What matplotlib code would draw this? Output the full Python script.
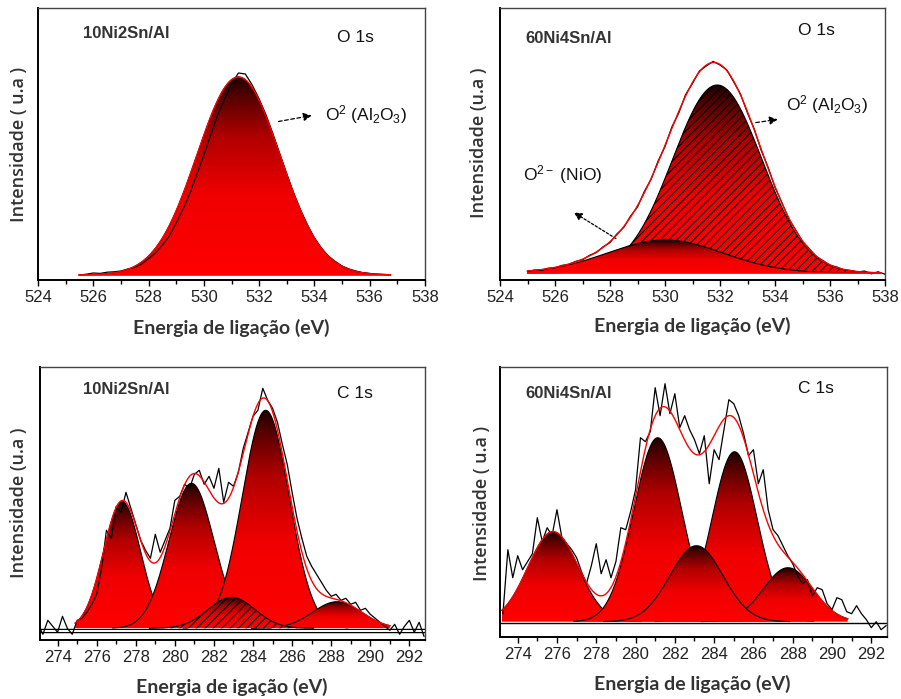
import numpy as np
import matplotlib
matplotlib.use('Agg')
import matplotlib.pyplot as plt
from matplotlib.colors import LinearSegmentedColormap
from matplotlib.ticker import MultipleLocator, NullLocator

plt.rcParams['font.family'] = ['Liberation Sans', 'DejaVu Sans']
plt.rcParams['mathtext.fontset'] = 'custom'
plt.rcParams['mathtext.rm'] = 'Liberation Sans'
plt.rcParams['mathtext.it'] = 'Liberation Sans:italic'
plt.rcParams['mathtext.bf'] = 'Liberation Sans:bold'
plt.rcParams['hatch.linewidth'] = 0.8

# ---- O 1s, 10Ni2Sn/Al (measured, 0.25 eV step) ----
o1s_10_energy = np.arange(525.5, 536.76, 0.25)
o1s_10_counts = [0.000, 0.004, 0.010, 0.008, 0.014, 0.016, 0.020, 0.030, 0.038, 0.055,
                 0.082, 0.110, 0.150, 0.195, 0.260, 0.330, 0.410, 0.505, 0.600, 0.700,
                 0.800, 0.880, 0.955, 1.010, 1.005, 0.950, 0.880, 0.800, 0.705, 0.605,
                 0.505, 0.410, 0.325, 0.250, 0.185, 0.135, 0.095, 0.068, 0.045, 0.030,
                 0.020, 0.012, 0.008, 0.004, 0.003, 0.001]
o1s_10_centers = [531.25]
o1s_10_heights = [0.99]
o1s_10_sigmas = [1.5]

# ---- O 1s, 60Ni4Sn/Al ----
o1s_60_energy = np.arange(525.0, 538.01, 0.25)
o1s_60_counts = [0.006, 0.015, 0.012, 0.024, 0.026, 0.038, 0.043, 0.058, 0.066, 0.088,
                 0.102, 0.131, 0.152, 0.195, 0.228, 0.285, 0.330, 0.408, 0.470, 0.560,
                 0.632, 0.730, 0.800, 0.892, 0.948, 1.010, 1.035, 1.058, 1.040, 1.015,
                 0.955, 0.893, 0.800, 0.718, 0.612, 0.528, 0.428, 0.352, 0.270, 0.216,
                 0.158, 0.121, 0.082, 0.062, 0.038, 0.030, 0.016, 0.013, 0.004, 0.010,
                 -0.004, 0.006, -0.006]
o1s_60_centers = [531.9, 530.0]
o1s_60_heights = [0.94, 0.165]
o1s_60_sigmas = [1.62, 2.1]

# ---- C 1s, 10Ni2Sn/Al ----
c1s_10_energy = np.arange(273.0, 292.76, 0.25)
c1s_10_counts = [0.02, -0.03, 0.04, 0.01, -0.02, 0.06, 0.00, -0.03, 0.04, 0.05,
                 0.08, 0.12, 0.17, 0.30, 0.49, 0.45, 0.61, 0.58, 0.68, 0.60,
                 0.52, 0.44, 0.39, 0.35, 0.47, 0.38, 0.44, 0.50, 0.64, 0.66,
                 0.72, 0.70, 0.77, 0.79, 0.72, 0.76, 0.70, 0.80, 0.63, 0.73,
                 0.71, 0.78, 0.90, 0.98, 1.06, 1.09, 1.20, 1.14, 1.10, 1.03,
                 0.92, 0.82, 0.68, 0.55, 0.45, 0.36, 0.31, 0.27, 0.23, 0.19,
                 0.16, 0.17, 0.14, 0.15, 0.12, 0.13, 0.09, 0.10, 0.07, 0.05,
                 0.03, 0.01, -0.01, 0.02, -0.03, 0.01, 0.04, -0.02, 0.03, -0.04]
c1s_10_centers = [277.3, 280.85, 282.9, 284.65, 288.3]
c1s_10_heights = [0.633, 0.725, 0.155, 1.09, 0.133]
c1s_10_sigmas = [0.95, 1.15, 1.2, 1.2, 1.25]

# ---- C 1s, 60Ni4Sn/Al ----
c1s_60_energy = np.arange(273.25, 292.76, 0.25)
c1s_60_counts = [0.04, 0.36, 0.22, 0.33, 0.26, 0.30, 0.34, 0.52, 0.40, 0.47,
                 0.43, 0.56, 0.42, 0.39, 0.36, 0.32, 0.25, 0.19, 0.28, 0.39,
                 0.24, 0.31, 0.22, 0.30, 0.47, 0.46, 0.55, 0.66, 0.92, 0.90,
                 0.95, 1.17, 1.03, 1.19, 1.04, 1.14, 0.97, 1.03, 0.96, 0.91,
                 0.84, 0.93, 0.69, 0.86, 0.81, 0.96, 1.11, 1.09, 1.03, 0.94,
                 0.83, 0.86, 0.69, 0.76, 0.56, 0.46, 0.43, 0.38, 0.33, 0.29,
                 0.23, 0.19, 0.21, 0.13, 0.17, 0.16, 0.09, 0.06, 0.12, 0.11,
                 0.05, 0.04, 0.08, 0.04, 0.01, -0.03, 0.00, -0.04, -0.02]
c1s_60_centers = [275.8, 281.13, 283.1, 285.04, 287.76]
c1s_60_heights = [0.45, 0.92, 0.38, 0.85, 0.27]
c1s_60_sigmas = [1.28, 1.22, 1.35, 1.15, 1.26]

peak_cmap = LinearSegmentedColormap.from_list(
    'peak', [(0.0, '#ff0000'), (0.4, '#f00000'), (0.7, '#b00000'), (0.88, '#600000'), (1.0, '#200000')])

W, H = 901, 699


def px_axes(fig, left, top, right, bottom):
    return fig.add_axes([left / W, 1 - bottom / H, (right - left) / W, (bottom - top) / H])


def gaussian(x, c, h, s):
    return h * np.exp(-(x - c) ** 2 / (2 * s * s))


def gradient_peak(ax, x, y, hatch=None, z=2):
    poly, = ax.fill(np.r_[x[0], x, x[-1]], np.r_[0, y, 0], facecolor='none', edgecolor='none')
    grad = np.linspace(0, 1, 256).reshape(-1, 1)
    im = ax.imshow(grad, cmap=peak_cmap, origin='lower', aspect='auto',
                   extent=[x[0], x[-1], 0, y.max()], zorder=z, interpolation='bilinear')
    im.set_clip_path(poly)
    if hatch:
        ax.fill_between(x, 0, y, facecolor='none', edgecolor='k', linewidth=0, hatch=hatch, zorder=z + 0.05)
    ax.plot(x, y, color='k', lw=0.8, zorder=z + 0.1)


def draw_panel(ax, energy, counts, centers, heights, sigmas, fit_lo, fit_hi,
               xlim, ylim, xticks, hatched=(), on_top=(), clip_sigma=None, edge_red=False):
    xs = np.linspace(fit_lo, fit_hi, 600)
    total = np.zeros_like(xs)
    for i, (c, h, s) in enumerate(zip(centers, heights, sigmas)):
        lo, hi = fit_lo, fit_hi
        if clip_sigma:
            lo, hi = max(fit_lo, c - clip_sigma * s), min(fit_hi, c + clip_sigma * s)
        xp = np.linspace(lo, hi, 300)
        z = 3.5 if i in on_top else 2 + i * 0.2
        gradient_peak(ax, xp, gaussian(xp, c, h, s), hatch='////' if i in hatched else None, z=z)
        total += gaussian(xs, c, h, s)
    ax.plot(energy, counts, color='k', lw=0.9, zorder=5)
    ax.plot(xs, total, color='#ff0000', lw=1.0, zorder=6)
    if edge_red:
        ax.plot(xs, np.zeros_like(xs), color='#ff0000', lw=1.2, zorder=6)
    ax.set_xlim(*xlim)
    ax.set_ylim(*ylim)
    ax.set_xticks(xticks)
    ax.xaxis.set_minor_locator(MultipleLocator(1))
    ax.yaxis.set_major_locator(NullLocator())
    ax.tick_params(axis='x', which='major', direction='out', length=4, width=1.0,
                   labelsize=12, labelcolor='#222222', pad=3)
    ax.tick_params(axis='x', which='minor', direction='out', length=3, width=1.0)
    for side in ['left', 'bottom']:
        ax.spines[side].set_linewidth(1.4)
    for side in ['top', 'right']:
        ax.spines[side].set_linewidth(1.0)
        ax.spines[side].set_color('#444444')


fig = plt.figure(figsize=(W / 100, H / 100), dpi=100)

label_font = dict(family=['Lato', 'DejaVu Sans'], fontsize=14, fontweight='bold', color='#333333')
ylabel_font = dict(family=['Open Sans', 'DejaVu Sans'], fontsize=13, fontweight='semibold', color='#333333')
tag_font = dict(fontsize=12, fontweight='bold', color='#333333')
core_font = dict(fontsize=12.5, color='#111111')
ann_font = dict(fontsize=12.5, color='#111111')

# panel 1
ax1 = px_axes(fig, 38, 8, 425, 280)
draw_panel(ax1, o1s_10_energy, o1s_10_counts, o1s_10_centers, o1s_10_heights, o1s_10_sigmas,
           525.5, 536.75, (524, 538), (-0.025, 1.335), np.arange(524, 539, 2), edge_red=True)
ax1.text(0.116, 0.908, '10Ni2Sn/Al', transform=ax1.transAxes, va='center', **tag_font)
ax1.text(0.773, 0.893, 'O 1s', transform=ax1.transAxes, va='center', **core_font)
ax1.annotate('', xy=(534.0, 0.80), xytext=(532.6, 0.765),
             arrowprops=dict(arrowstyle='-|>', color='k', lw=0.9, linestyle=(0, (3, 2)), mutation_scale=12))
ax1.text(534.4, 0.80, r'O$^{2}$ (Al$_{2}$O$_{3}$)', va='center', **ann_font)

# panel 2
ax2 = px_axes(fig, 500, 8, 885, 280)
draw_panel(ax2, o1s_60_energy, o1s_60_counts, o1s_60_centers, o1s_60_heights, o1s_60_sigmas,
           525.0, 537.8, (524, 538), (-0.035, 1.325), np.arange(524, 539, 2), hatched=(0,), edge_red=True)
ax2.text(0.065, 0.889, '60Ni4Sn/Al', transform=ax2.transAxes, va='center', **tag_font)
ax2.text(0.774, 0.919, 'O 1s', transform=ax2.transAxes, va='center', **core_font)
ax2.annotate('', xy=(534.2, 0.77), xytext=(533.2, 0.75),
             arrowprops=dict(arrowstyle='-|>', color='k', lw=0.9, linestyle=(0, (3, 2)), mutation_scale=12))
ax2.text(534.4, 0.84, r'O$^{2}$ (Al$_{2}$O$_{3}$)', va='center', **ann_font)
ax2.annotate('', xy=(526.6, 0.31), xytext=(528.3, 0.165),
             arrowprops=dict(arrowstyle='-|>', color='k', lw=0.9, linestyle=(0, (2, 1.5)), mutation_scale=12))
ax2.text(524.85, 0.49, r'O$^{2-}$ (NiO)', va='center', **ann_font)

# panel 3
ax3 = px_axes(fig, 40, 367, 425, 640)
draw_panel(ax3, c1s_10_energy, c1s_10_counts, c1s_10_centers, c1s_10_heights, c1s_10_sigmas,
           274.9, 291.0, (273.1, 292.8), (-0.0585, 1.3065), np.arange(274, 293, 2),
           hatched=(2,), on_top=(2,), clip_sigma=3.5)
ax3.axhline(-0.011, color='k', lw=3.2, zorder=1.5)
ax3.axhline(-0.011, color='white', lw=1.4, zorder=1.6)
ax3.text(0.112, 0.916, '10Ni2Sn/Al', transform=ax3.transAxes, va='center', **tag_font)
ax3.text(0.771, 0.903, 'C 1s', transform=ax3.transAxes, va='center', **core_font)

# panel 4
ax4 = px_axes(fig, 500, 367, 887, 637)
draw_panel(ax4, c1s_60_energy, c1s_60_counts, c1s_60_centers, c1s_60_heights, c1s_60_sigmas,
           273.2, 290.8, (273.1, 292.8), (-0.0765, 1.2735), np.arange(274, 293, 2),
           on_top=(2,), clip_sigma=3.5)
ax4.axhline(-0.006, color='k', lw=1.0, zorder=1.5)
ax4.text(0.065, 0.903, '60Ni4Sn/Al', transform=ax4.transAxes, va='center', **tag_font)
ax4.text(0.770, 0.922, 'C 1s', transform=ax4.transAxes, va='center', **core_font)

# axis labels placed in pixel coordinates
fig.text(231 / W, 1 - 328 / H, 'Energia de ligação (eV)', ha='center', va='center', **label_font)
fig.text(692 / W, 1 - 326 / H, 'Energia de ligação (eV)', ha='center', va='center', **label_font)
fig.text(232 / W, 1 - 687 / H, 'Energia de igação (eV)', ha='center', va='center', **label_font)
fig.text(692 / W, 1 - 684 / H, 'Energia de ligação (eV)', ha='center', va='center', **label_font)
fig.text(19 / W, 1 - 144 / H, 'Intensidade ( u.a )', rotation=90, ha='center', va='center', **ylabel_font)
fig.text(479 / W, 1 - 143 / H, 'Intensidade (u.a )', rotation=90, ha='center', va='center', **ylabel_font)
fig.text(19 / W, 1 - 503 / H, 'Intensidade (u.a )', rotation=90, ha='center', va='center', **ylabel_font)
fig.text(482 / W, 1 - 503 / H, 'Intensidade ( u.a )', rotation=90, ha='center', va='center', **ylabel_font)

fig.savefig('out.png', dpi=100)
